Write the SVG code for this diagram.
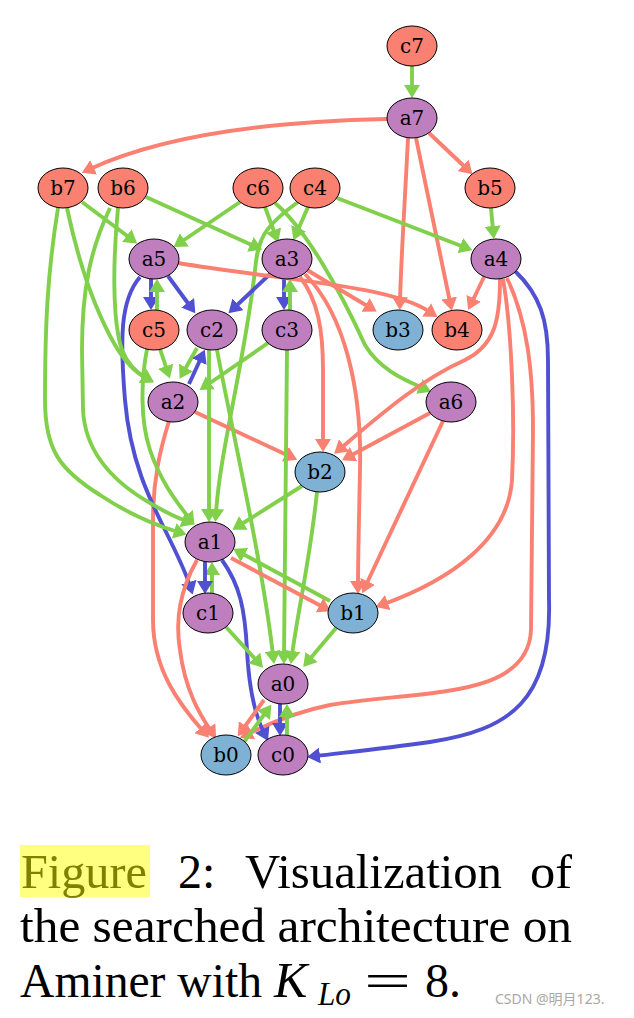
<svg xmlns="http://www.w3.org/2000/svg" width="634" height="1018" viewBox="0 0 634 1018">
<style>
.e{fill:none;stroke-width:3.9;stroke-linecap:butt}
.g{stroke:#80D04B;marker-end:url(#mg)}
.r{stroke:#FA8072;marker-end:url(#mr)}
.b{stroke:#5050D2;marker-end:url(#mb)}
.n ellipse{stroke:#000;stroke-width:1}
.n text{font-family:"DejaVu Serif",serif;font-size:20px;text-anchor:middle;fill:#000}
.R ellipse{fill:#FA8072}
.P ellipse{fill:#BF7FBF}
.B ellipse{fill:#7FB1D4}
.cap{font-family:"Liberation Serif","Times New Roman",serif;font-size:48px;fill:#000}
</style>
<defs>
<marker id="mg" markerUnits="userSpaceOnUse" markerWidth="13" markerHeight="16" refX="4" refY="8" orient="auto"><path d="M0,0 L13,8 L0,16 z" fill="#80D04B"/></marker>
<marker id="mr" markerUnits="userSpaceOnUse" markerWidth="13" markerHeight="16" refX="4" refY="8" orient="auto"><path d="M0,0 L13,8 L0,16 z" fill="#FA8072"/></marker>
<marker id="mb" markerUnits="userSpaceOnUse" markerWidth="13" markerHeight="16" refX="4" refY="8" orient="auto"><path d="M0,0 L13,8 L0,16 z" fill="#5050D2"/></marker>
</defs>
<rect width="634" height="1018" fill="#fff"/>
<g id="connectors">
<path class="e g" d="M412,66 L412,89"/>
<path class="e r" d="M387,119 C290,121 170,132 90,169"/>
<path class="e r" d="M429,133 L466,168"/>
<path class="e r" d="M408,138 C405,200 401,260 400,301"/>
<path class="e r" d="M416,138 L450,302"/>
<path class="e g" d="M82,202 L130,238"/>
<path class="e g" d="M146,197 L254,246"/>
<path class="e g" d="M240,202 L181,242"/>
<path class="e g" d="M265,207 L275,234"/>
<path class="e g" d="M308,207 L297,232"/>
<path class="e g" d="M298,202 C262,228 258,240 255,270 C245,360 220,450 216,513"/>
<path class="e g" d="M275,203 C305,228 340,290 365,345 C380,370 405,380 423,388"/>
<path class="e g" d="M337,198 L464,247"/>
<path class="e g" d="M491,208 L493,230"/>
<path class="e b" d="M151,279 L151,301"/>
<path class="e g" d="M157,310 L157,288"/>
<path class="e b" d="M168,276 L190,306"/>
<path class="e b" d="M270,274 L235,307"/>
<path class="e b" d="M284,279 L284,301"/>
<path class="e g" d="M290,310 L290,288"/>
<path class="e r" d="M178,263 C280,280 390,285 430,312"/>
<path class="e r" d="M307,270 L369,307"/>
<path class="e r" d="M300,277 C318,300 323,330 323,370 L323,443"/>
<path class="e r" d="M305,274 C345,315 362,390 360,470 C359,520 358,560 358,585"/>
<path class="e r" d="M484,277 L472,302"/>
<path class="e r" d="M500,279 C500,320 495,345 465,360 C420,380 380,415 341,448"/>
<path class="e r" d="M430,413 L350,456"/>
<path class="e r" d="M443,421 L366,585"/>
<path class="e r" d="M503,279 C512,330 515,420 512,480 C508,540 450,580 384,604"/>
<path class="e r" d="M507,278 C527,320 533,370 533,430 L531,630 C528,700 420,690 330,705 C295,712 268,724 248,734"/>
<path class="e b" d="M515,271 C540,295 548,320 548,360 L549,600 C552,700 510,730 430,742 C380,749 340,753 316,756"/>
<path class="e r" d="M195,412 L289,456"/>
<path class="e r" d="M169,421 C160,450 153,480 153,520 L153,620 C153,670 180,705 203,731"/>
<path class="e g" d="M160,349 L167,370"/>
<path class="e g" d="M147,349 C141,380 140,420 150,450 C160,480 175,500 189,518"/>
<path class="e g" d="M197,348 L184,371"/>
<path class="e b" d="M189,384 L201,358"/>
<path class="e g" d="M268,343 L207,385"/>
<path class="e g" d="M209,350 L209,513"/>
<path class="e g" d="M217,350 C230,420 262,560 273,655"/>
<path class="e g" d="M287,350 L284,655"/>
<path class="e g" d="M302,486 L240,525"/>
<path class="e g" d="M317,492 C310,560 298,610 292,655"/>
<path class="e g" d="M330,601 L241,553"/>
<path class="e r" d="M231,558 L323,607"/>
<path class="e g" d="M212,593 L212,571"/>
<path class="e b" d="M205,562 L205,585"/>
<path class="e b" d="M140,277 C120,300 120,340 125,400 C130,460 150,500 165,530 C175,550 185,570 190,586"/>
<path class="e b" d="M222,560 C240,585 245,610 247,650 C249,690 255,715 264,733"/>
<path class="e b" d="M280,704 L280,727"/>
<path class="e g" d="M287,735 L287,713"/>
<path class="e g" d="M226,627 L257,661"/>
<path class="e g" d="M336,628 L309,660"/>
<path class="e g" d="M244,742 L266,712"/>
<path class="e r" d="M264,700 L243,729"/>
<path class="e r" d="M197,560 C180,590 175,620 180,650 C185,690 200,715 211,731"/>
<path class="e g" d="M58,208 C48,270 45,320 45,400 C45,450 60,470 100,495 C130,515 155,525 178,532"/>
<path class="e g" d="M110,208 C90,250 82,290 82,350 L83,410 C85,450 110,480 150,503 C165,512 178,518 186,521"/>
<path class="e g" d="M67,208 C78,260 95,310 115,345 C125,362 135,372 146,378"/>
<path class="e g" d="M118,208 C113,260 112,320 122,350 C128,365 137,373 146,378"/>
</g>
<g id="c7" class="n R"><ellipse cx="412" cy="46" rx="25" ry="20"/><text x="412" y="53">c7</text></g>
<g id="a7" class="n P"><ellipse cx="412" cy="118" rx="25" ry="20"/><text x="412" y="125">a7</text></g>
<g id="b7" class="n R"><ellipse cx="63" cy="188" rx="25" ry="20"/><text x="63" y="195">b7</text></g>
<g id="b6" class="n R"><ellipse cx="123" cy="188" rx="25" ry="20"/><text x="123" y="195">b6</text></g>
<g id="c6" class="n R"><ellipse cx="258" cy="188" rx="25" ry="20"/><text x="258" y="195">c6</text></g>
<g id="c4" class="n R"><ellipse cx="315" cy="188" rx="25" ry="20"/><text x="315" y="195">c4</text></g>
<g id="b5" class="n R"><ellipse cx="490" cy="188" rx="25" ry="20"/><text x="490" y="195">b5</text></g>
<g id="a5" class="n P"><ellipse cx="154" cy="259" rx="25" ry="20"/><text x="154" y="266">a5</text></g>
<g id="a3" class="n P"><ellipse cx="287" cy="259" rx="25" ry="20"/><text x="287" y="266">a3</text></g>
<g id="a4" class="n P"><ellipse cx="496" cy="259" rx="25" ry="20"/><text x="496" y="266">a4</text></g>
<g id="c5" class="n R"><ellipse cx="154" cy="330" rx="25" ry="20"/><text x="154" y="337">c5</text></g>
<g id="c2" class="n P"><ellipse cx="212" cy="330" rx="25" ry="20"/><text x="212" y="337">c2</text></g>
<g id="c3" class="n P"><ellipse cx="287" cy="330" rx="25" ry="20"/><text x="287" y="337">c3</text></g>
<g id="b3" class="n B"><ellipse cx="398" cy="330" rx="25" ry="20"/><text x="398" y="337">b3</text></g>
<g id="b4" class="n R"><ellipse cx="457" cy="330" rx="25" ry="20"/><text x="457" y="337">b4</text></g>
<g id="a2" class="n P"><ellipse cx="173" cy="402" rx="25" ry="20"/><text x="173" y="409">a2</text></g>
<g id="a6" class="n P"><ellipse cx="451" cy="402" rx="25" ry="20"/><text x="451" y="409">a6</text></g>
<g id="b2" class="n B"><ellipse cx="320" cy="472" rx="25" ry="20"/><text x="320" y="479">b2</text></g>
<g id="a1" class="n P"><ellipse cx="210" cy="542" rx="25" ry="20"/><text x="210" y="549">a1</text></g>
<g id="c1" class="n P"><ellipse cx="208" cy="613" rx="25" ry="20"/><text x="208" y="620">c1</text></g>
<g id="b1" class="n B"><ellipse cx="353" cy="613" rx="25" ry="20"/><text x="353" y="620">b1</text></g>
<g id="a0" class="n P"><ellipse cx="283" cy="684" rx="25" ry="20"/><text x="283" y="691">a0</text></g>
<g id="b0" class="n B"><ellipse cx="226" cy="755" rx="25" ry="20"/><text x="226" y="762">b0</text></g>
<g id="c0" class="n P"><ellipse cx="283" cy="755" rx="25" ry="20"/><text x="283" y="762">c0</text></g>
<g id="caption">
<rect x="20" y="845" width="130" height="52" fill="#FFFF80"/>
<text class="cap" x="21" y="888" style="fill:#7F7F00" textLength="126" lengthAdjust="spacingAndGlyphs">Figure</text>
<text class="cap" x="178" y="888">2:</text>
<text class="cap" x="245" y="888" textLength="257" lengthAdjust="spacingAndGlyphs">Visualization</text>
<text class="cap" x="530" y="888" textLength="42" lengthAdjust="spacingAndGlyphs">of</text>
<text class="cap" x="20" y="942" textLength="552" lengthAdjust="spacingAndGlyphs">the searched architecture on</text>
<text class="cap" x="20" y="997" textLength="242" lengthAdjust="spacingAndGlyphs">Aminer with</text>
<text class="cap" x="274" y="997" font-style="italic" style="font-size:50px">K</text>
<text class="cap" x="318" y="1005" font-style="italic" style="font-size:34px" textLength="33" lengthAdjust="spacingAndGlyphs">Lo</text>
<text class="cap" x="364" y="997" textLength="47" lengthAdjust="spacingAndGlyphs">=</text>
<text class="cap" x="425" y="997">8.</text>
<text x="495" y="1004" style="font-family:'Noto Sans','Noto Sans CJK SC',sans-serif;font-size:14px;fill:#A8A8A8">CSDN @明月123.</text>
</g>
</svg>
